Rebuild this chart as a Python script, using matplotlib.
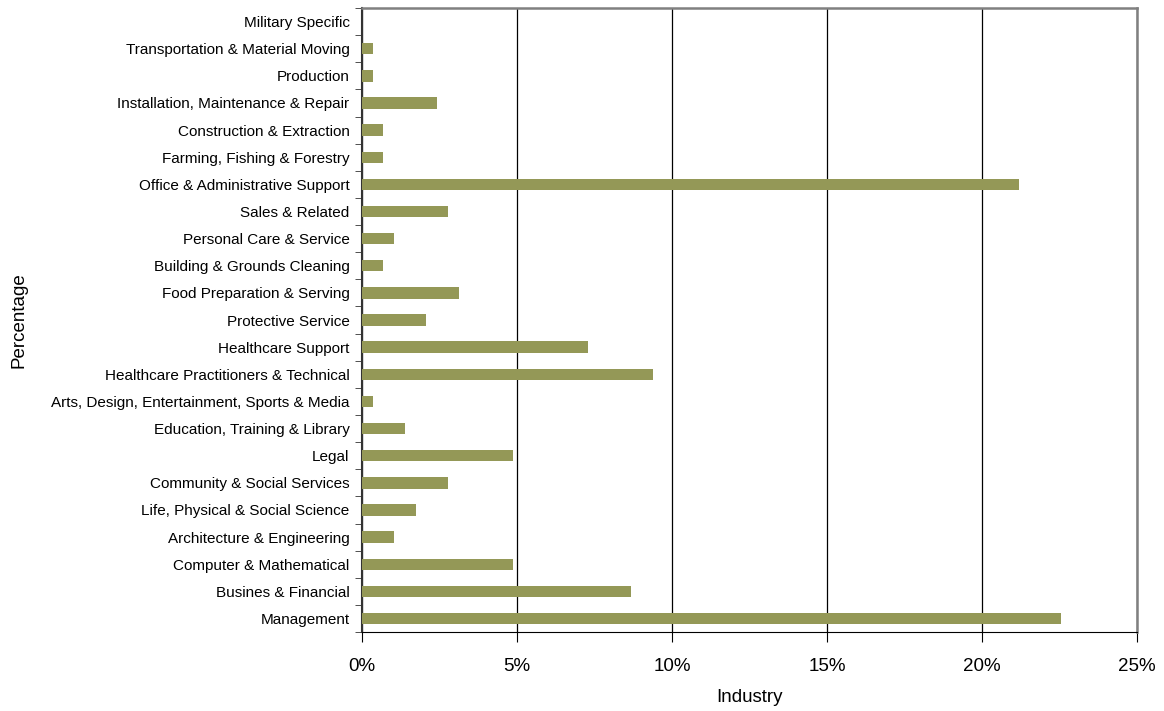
import matplotlib.pyplot as plt
from matplotlib.ticker import PercentFormatter

plt.rcParams['font.family'] = ['Liberation Sans', 'DejaVu Sans']

categories = [
    "Management", "Busines & Financial", "Computer & Mathematical",
    "Architecture & Engineering", "Life, Physical & Social Science",
    "Community & Social Services", "Legal", "Education, Training & Library",
    "Arts, Design, Entertainment, Sports & Media",
    "Healthcare Practitioners & Technical", "Healthcare Support",
    "Protective Service", "Food Preparation & Serving",
    "Building & Grounds Cleaning", "Personal Care & Service",
    "Sales & Related", "Office & Administrative Support",
    "Farming, Fishing & Forestry", "Construction & Extraction",
    "Installation, Maintenance & Repair", "Production",
    "Transportation & Material Moving", "Military Specific",
]
values = [22.55, 8.68, 4.86, 1.04, 1.74, 2.78, 4.86, 1.39, 0.35, 9.38, 7.29,
          2.08, 3.13, 0.69, 1.04, 2.78, 21.18, 0.69, 0.69, 2.43, 0.35, 0.35, 0.0]

fig = plt.figure(figsize=(11.64, 7.11), dpi=100)
ax = fig.add_axes([0.311, 0.111, 0.6658, 0.8777])

ypos = range(len(categories))
ax.barh(ypos, values, height=0.42, color='#949857', zorder=3)

ax.set_xlim(0, 25)
ax.set_ylim(-0.5, len(categories) - 0.5)
ax.set_xticks([0, 5, 10, 15, 20, 25])
ax.xaxis.set_major_formatter(PercentFormatter(decimals=0))
ax.grid(axis='x', color='black', linewidth=0.9, zorder=1)

ax.set_yticks(list(ypos))
ax.set_yticklabels(categories, fontsize=11)
ax.set_yticks([i - 0.5 for i in range(len(categories) + 1)], minor=True)
ax.tick_params(axis='y', which='major', length=0, pad=9)
ax.tick_params(axis='y', which='minor', length=5, direction='out', color='#333333')
ax.tick_params(axis='x', length=7, direction='out', labelsize=13.5, pad=12)

for s in ['top', 'right']:
    ax.spines[s].set_color('#808080')
    ax.spines[s].set_linewidth(1.8)
ax.spines['left'].set_color('#333333')
ax.spines['left'].set_linewidth(1.5)
ax.spines['bottom'].set_color('black')

ax.set_xlabel("Industry", fontsize=13.5, labelpad=10)
ax.set_ylabel("Percentage", fontsize=13.5)
ax.yaxis.set_label_coords(-0.432, 0.5)

plt.savefig("out.png", dpi=100)
